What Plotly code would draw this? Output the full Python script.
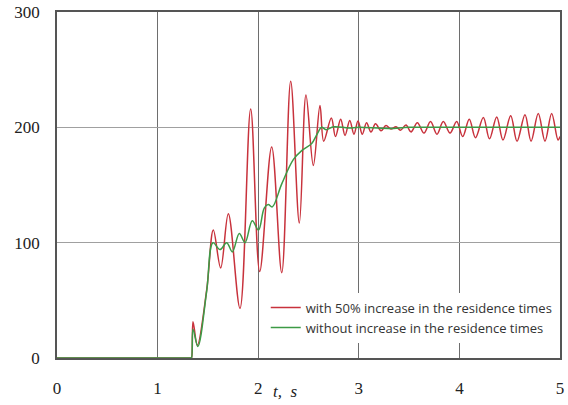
import plotly.graph_objects as go

# Time (s) and value for curve with 50% increase in residence times (peaks/troughs)
t_red = [0.0, 1.33, 1.337, 1.352, 1.395, 1.488, 1.554, 1.627, 1.703, 1.819, 1.925, 2.015,
         2.134, 2.234, 2.323, 2.409, 2.475, 2.548, 2.614, 2.651, 2.727, 2.768, 2.820, 2.863,
         2.910, 2.952, 2.992, 3.035, 3.077, 3.121, 3.166, 3.221, 3.270, 3.320, 3.370, 3.414,
         3.469, 3.519, 3.582, 3.648, 3.713, 3.777, 3.840, 3.907, 3.973, 4.033, 4.098, 4.160,
         4.238, 4.299, 4.371, 4.433, 4.510, 4.573, 4.652, 4.712, 4.784, 4.851, 4.917, 4.980, 5.0]
v_red = [0, 0, 0, 31.5, 11, 59, 111, 78, 125, 43, 216, 75,
         183, 74, 240, 117, 228, 167, 219, 188, 208, 192, 207, 193,
         206, 194, 205.5, 194, 204, 196, 203, 197, 201.5, 198.5, 200.5, 197.5,
         202, 196, 204, 195, 205, 194, 205, 195, 205, 192, 207, 191,
         208.5, 190, 209, 189, 210, 188, 211, 188, 212, 188, 212, 189, 192]

# Curve without increase in residence times
t_green = [0.0, 1.33, 1.337, 1.352, 1.40, 1.488, 1.55, 1.620, 1.687, 1.743, 1.812, 1.869,
           1.941, 2.003, 2.06, 2.10, 2.14, 2.234, 2.349, 2.435, 2.532, 2.585, 2.631, 2.674,
           2.75, 2.9, 3.0, 3.3, 3.5, 4.0, 4.5, 5.0]
v_green = [0, 0, 0, 25, 10, 58, 100, 94, 100, 92, 108, 100,
           119, 111, 130, 133, 131, 151, 172, 180, 186, 194, 200, 198,
           200.5, 199.5, 200, 199, 200, 200, 200, 200]

series_names = ["with 50% increase in the residence times",
                "without increase in the residence times"]
x_ticks = [0, 1, 2, 3, 4, 5]
y_ticks = [0, 100, 200, 300]

fig = go.Figure()
fig.add_trace(go.Scatter(x=t_red, y=v_red, mode="lines", name=series_names[0],
                         line=dict(color="#c8323c", width=1.5, shape="spline", smoothing=1.0)))
fig.add_trace(go.Scatter(x=t_green, y=v_green, mode="lines", name=series_names[1],
                         line=dict(color="#3c9a46", width=1.5, shape="spline", smoothing=1.0)))

serif = "Liberation Serif, Times New Roman, serif"
fig.update_layout(
    width=568, height=405,
    margin=dict(l=57, r=8, t=12, b=47),
    paper_bgcolor="white", plot_bgcolor="white",
    showlegend=True,
    legend=dict(x=0.415, y=0.189, xanchor="left", yanchor="top",
                bgcolor="white", borderwidth=0,
                font=dict(family="Open Sans, sans-serif", size=13, color="#333"),
                tracegroupgap=0, itemwidth=30),
    xaxis=dict(range=[0, 5], tickvals=x_ticks, ticks="", showgrid=True, automargin=False,
               gridcolor="#6e6e6e", gridwidth=1, showline=True, linecolor="#555",
               linewidth=1.5, mirror=True, zeroline=False, ticklabelstandoff=14,
               ticklabeloverflow="allow",
               tickfont=dict(family=serif, size=17, color="#222")),
    yaxis=dict(range=[0, 300], tickvals=y_ticks, ticks="", showgrid=True, automargin=False,
               gridcolor="#a0a0a0", gridwidth=1, showline=True, linecolor="#555",
               linewidth=1.5, mirror=True, zeroline=False, ticklabelstandoff=12,
               ticklabeloverflow="allow",
               tickfont=dict(family=serif, size=17, color="#222")),
    annotations=[dict(text="<i>t,  s</i>", x=2.27, xref="x", y=-0.098, yref="paper",
                      showarrow=False, xanchor="center", yanchor="middle",
                      font=dict(family=serif, size=17, color="#222"))],
)
fig.write_html("out.html", config={"displayModeBar": False},
               post_script="document.body.style.margin='0';document.body.style.overflow='hidden';")
